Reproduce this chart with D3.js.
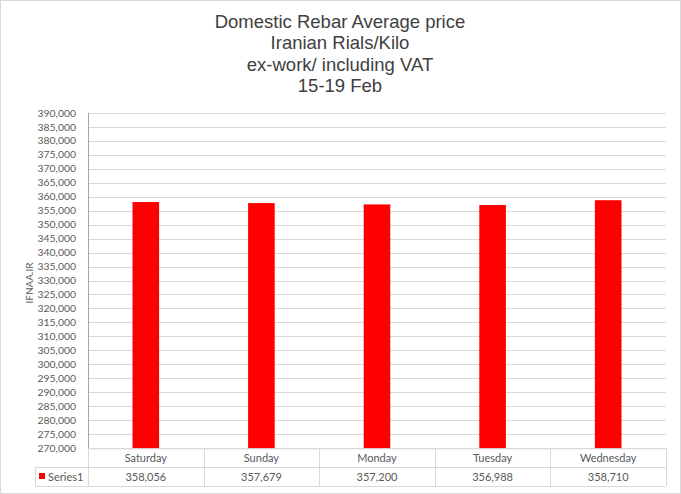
<!DOCTYPE html>
<html><head><meta charset="utf-8">
<script src="https://cdn.jsdelivr.net/npm/d3@7"></script>
<style>body{margin:0;background:#fff}svg{display:block}</style>
</head><body>
<svg id="c" width="681" height="494"></svg>
<script>
const categories = ["Saturday","Sunday","Monday","Tuesday","Wednesday"];
const values = [358056, 357679, 357200, 356988, 358710];
const seriesName = "Series1";
const titleLines = ["Domestic Rebar Average price","Iranian Rials/Kilo","ex-work/ including VAT","15-19 Feb"];
const yLabel = "IFNAA.IR";
const yMin = 270000, yMax = 390000, yStep = 5000;

const svg = d3.select("#c");
const W = 681, H = 494;
const L = 88, R = 666, T = 112.7, B = 448.3;
const row1 = 467, row2 = 486, tableLeft = 35;
const grid = "#d9d9d9", txt = "#595959";
const tickFont = "Lato, 'Open Sans', sans-serif";

svg.append("rect").attr("x",0.5).attr("y",0.5).attr("width",W-1).attr("height",H-1)
  .attr("fill","#fff").attr("stroke","#d9d9d9");

const tt = svg.append("text").attr("text-anchor","middle")
  .attr("font-family","'Liberation Sans',Arial,sans-serif")
  .attr("font-size",18.5).attr("fill","#404040");
titleLines.forEach((s,i)=>tt.append("tspan").attr("x",340).attr("y",28+i*21.3).text(s));

const y = d3.scaleLinear().domain([yMin,yMax]).range([B,T]);
const x = d3.scaleBand().domain(categories).range([L,R]).paddingInner(0.77).paddingOuter(0.385);
const xb = d3.scaleBand().domain(categories).range([L,R]);

const ticks = d3.range(yMin, yMax+1, yStep);
svg.append("g").selectAll("line").data(ticks).join("line")
  .attr("x1",L).attr("x2",R).attr("y1",d=>Math.round(y(d))+0.5).attr("y2",d=>Math.round(y(d))+0.5)
  .attr("stroke",grid);

const yAxis = d3.axisLeft(y).tickValues(ticks).tickSize(0).tickPadding(12).tickFormat(d3.format(","));
const ga = svg.append("g").attr("transform",`translate(${L},0)`).call(yAxis);
ga.select(".domain").remove();
ga.selectAll("text").attr("font-family",tickFont).attr("font-size",10.4).attr("fill",txt);
svg.append("line").attr("x1",L+0.5).attr("x2",L+0.5).attr("y1",T).attr("y2",B).attr("stroke","#a6a6a6");

svg.append("g").selectAll("rect").data(values).join("rect")
  .attr("x",(d,i)=>x(categories[i])).attr("width",x.bandwidth())
  .attr("y",d=>y(d)).attr("height",d=>B-y(d)).attr("fill","#ff0000");

// data table
const tg = svg.append("g").attr("stroke",grid).attr("fill","none");
tg.append("line").attr("x1",L).attr("x2",R).attr("y1",B+0.5).attr("y2",B+0.5);
tg.append("line").attr("x1",tableLeft).attr("x2",R).attr("y1",row1+0.5).attr("y2",row1+0.5);
tg.append("line").attr("x1",tableLeft).attr("x2",R).attr("y1",row2+0.5).attr("y2",row2+0.5);
tg.append("line").attr("x1",tableLeft+0.5).attr("x2",tableLeft+0.5).attr("y1",row1).attr("y2",row2);
const seps = categories.map(c=>xb(c)).concat([R]);
tg.selectAll("line.s").data(seps).join("line").attr("class","s")
  .attr("x1",d=>Math.round(d)+0.5).attr("x2",d=>Math.round(d)+0.5).attr("y1",B).attr("y2",row2);

svg.append("g").selectAll("text").data(categories).join("text")
  .attr("x",d=>xb(d)+xb.bandwidth()/2).attr("y",(B+row1)/2+4).attr("text-anchor","middle")
  .attr("font-family",tickFont).attr("font-size",11).attr("fill",txt).text(d=>d);
svg.append("g").selectAll("text").data(values).join("text")
  .attr("x",(d,i)=>xb(categories[i])+xb.bandwidth()/2).attr("y",(row1+row2)/2+4).attr("text-anchor","middle")
  .attr("font-family",tickFont).attr("font-size",11).attr("fill",txt).text(d=>d3.format(",")(d));
svg.append("rect").attr("x",39).attr("y",473).attr("width",6).attr("height",6).attr("fill","#ff0000");
svg.append("text").attr("x",48).attr("y",(row1+row2)/2+4).attr("font-family",tickFont)
  .attr("font-size",11).attr("fill",txt).text(seriesName);

svg.append("text").attr("transform",`translate(33,283) rotate(-90)`).attr("text-anchor","middle")
  .attr("font-family",tickFont).attr("font-size",10).attr("fill",txt).text(yLabel);
</script>
</body></html>
